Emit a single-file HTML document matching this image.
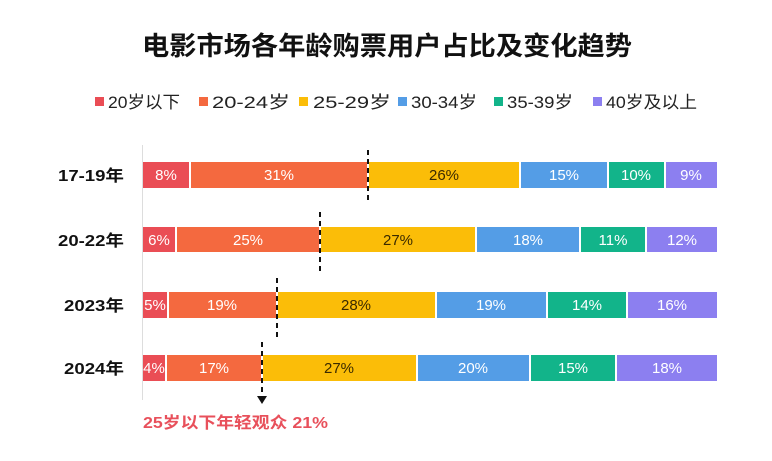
<!DOCTYPE html>
<html><head><meta charset="utf-8"><style>
html,body{margin:0;padding:0;background:#fff;}
svg{display:block;font-family:"Liberation Sans","Noto Sans CJK SC",sans-serif;}
</style></head><body>
<svg width="772" height="461" viewBox="0 0 772 461">
<text x="387" y="55" text-anchor="middle" font-size="26" font-weight="bold" fill="#111" textLength="490" lengthAdjust="spacingAndGlyphs">电影市场各年龄购票用户占比及变化趋势</text>
<g font-size="17" fill="#222">
<rect x="95" y="97" width="9" height="9" fill="#ea4d55"/><text x="108" y="108" textLength="72" lengthAdjust="spacingAndGlyphs">20岁以下</text>
<rect x="199" y="97" width="9" height="9" fill="#f4693f"/><text x="212" y="108" textLength="78" lengthAdjust="spacingAndGlyphs">20-24岁</text>
<rect x="299" y="97" width="9" height="9" fill="#fbbd08"/><text x="313" y="108" textLength="78" lengthAdjust="spacingAndGlyphs">25-29岁</text>
<rect x="398" y="97" width="9" height="9" fill="#549de6"/><text x="411" y="108" textLength="66" lengthAdjust="spacingAndGlyphs">30-34岁</text>
<rect x="494" y="97" width="9" height="9" fill="#12b48a"/><text x="507" y="108" textLength="66" lengthAdjust="spacingAndGlyphs">35-39岁</text>
<rect x="593" y="97" width="9" height="9" fill="#8c7ff0"/><text x="606" y="108" textLength="91" lengthAdjust="spacingAndGlyphs">40岁及以上</text>
</g>
<line x1="142.5" y1="145" x2="142.5" y2="400" stroke="#ddd" stroke-width="1"/>
<g font-size="16" font-weight="bold" fill="#111" text-anchor="end">
<text x="124" y="181" textLength="66" lengthAdjust="spacingAndGlyphs">17-19年</text>
<text x="124" y="246" textLength="66" lengthAdjust="spacingAndGlyphs">20-22年</text>
<text x="124" y="311" textLength="60" lengthAdjust="spacingAndGlyphs">2023年</text>
<text x="124" y="374" textLength="60" lengthAdjust="spacingAndGlyphs">2024年</text>
</g>
<g font-size="15" text-anchor="middle" fill="#fff">
<rect x="143" y="162" width="46" height="26" fill="#ea4d55"/><text x="166" y="180">8%</text>
<rect x="191" y="162" width="176" height="26" fill="#f4693f"/><text x="279" y="180">31%</text>
<rect x="369" y="162" width="150" height="26" fill="#fbbd08"/><text x="444" y="180" fill="#3a2a00">26%</text>
<rect x="521" y="162" width="86" height="26" fill="#549de6"/><text x="564" y="180">15%</text>
<rect x="609" y="162" width="55" height="26" fill="#12b48a"/><text x="636" y="180">10%</text>
<rect x="666" y="162" width="51" height="26" fill="#8c7ff0"/><text x="691" y="180">9%</text>
<rect x="143" y="227" width="32" height="25" fill="#ea4d55"/><text x="159" y="245">6%</text>
<rect x="177" y="227" width="142" height="25" fill="#f4693f"/><text x="248" y="245">25%</text>
<rect x="321" y="227" width="154" height="25" fill="#fbbd08"/><text x="398" y="245" fill="#3a2a00">27%</text>
<rect x="477" y="227" width="102" height="25" fill="#549de6"/><text x="528" y="245">18%</text>
<rect x="581" y="227" width="64" height="25" fill="#12b48a"/><text x="613" y="245">11%</text>
<rect x="647" y="227" width="70" height="25" fill="#8c7ff0"/><text x="682" y="245">12%</text>
<rect x="143" y="292" width="24" height="26" fill="#ea4d55"/><text x="155" y="310">5%</text>
<rect x="169" y="292" width="107" height="26" fill="#f4693f"/><text x="222" y="310">19%</text>
<rect x="278" y="292" width="157" height="26" fill="#fbbd08"/><text x="356" y="310" fill="#3a2a00">28%</text>
<rect x="437" y="292" width="109" height="26" fill="#549de6"/><text x="491" y="310">19%</text>
<rect x="548" y="292" width="78" height="26" fill="#12b48a"/><text x="587" y="310">14%</text>
<rect x="628" y="292" width="89" height="26" fill="#8c7ff0"/><text x="672" y="310">16%</text>
<rect x="143" y="355" width="22" height="26" fill="#ea4d55"/><text x="154" y="373">4%</text>
<rect x="167" y="355" width="94" height="26" fill="#f4693f"/><text x="214" y="373">17%</text>
<rect x="263" y="355" width="153" height="26" fill="#fbbd08"/><text x="339" y="373" fill="#3a2a00">27%</text>
<rect x="418" y="355" width="111" height="26" fill="#549de6"/><text x="473" y="373">20%</text>
<rect x="531" y="355" width="84" height="26" fill="#12b48a"/><text x="573" y="373">15%</text>
<rect x="617" y="355" width="100" height="26" fill="#8c7ff0"/><text x="667" y="373">18%</text>
</g>
<g stroke="#111" stroke-width="2" stroke-dasharray="5,4">
<line x1="368" y1="150" x2="368" y2="204"/>
<line x1="320" y1="212" x2="320" y2="272"/>
<line x1="277" y1="278" x2="277" y2="338"/>
<line x1="262" y1="342" x2="262" y2="397"/>
</g>
<polygon points="257,396 267,396 262,404" fill="#111"/>
<text x="143" y="428" font-size="16" font-weight="bold" fill="#e8505b" textLength="185" lengthAdjust="spacingAndGlyphs">25岁以下年轻观众 21%</text>
</svg>
</body></html>
